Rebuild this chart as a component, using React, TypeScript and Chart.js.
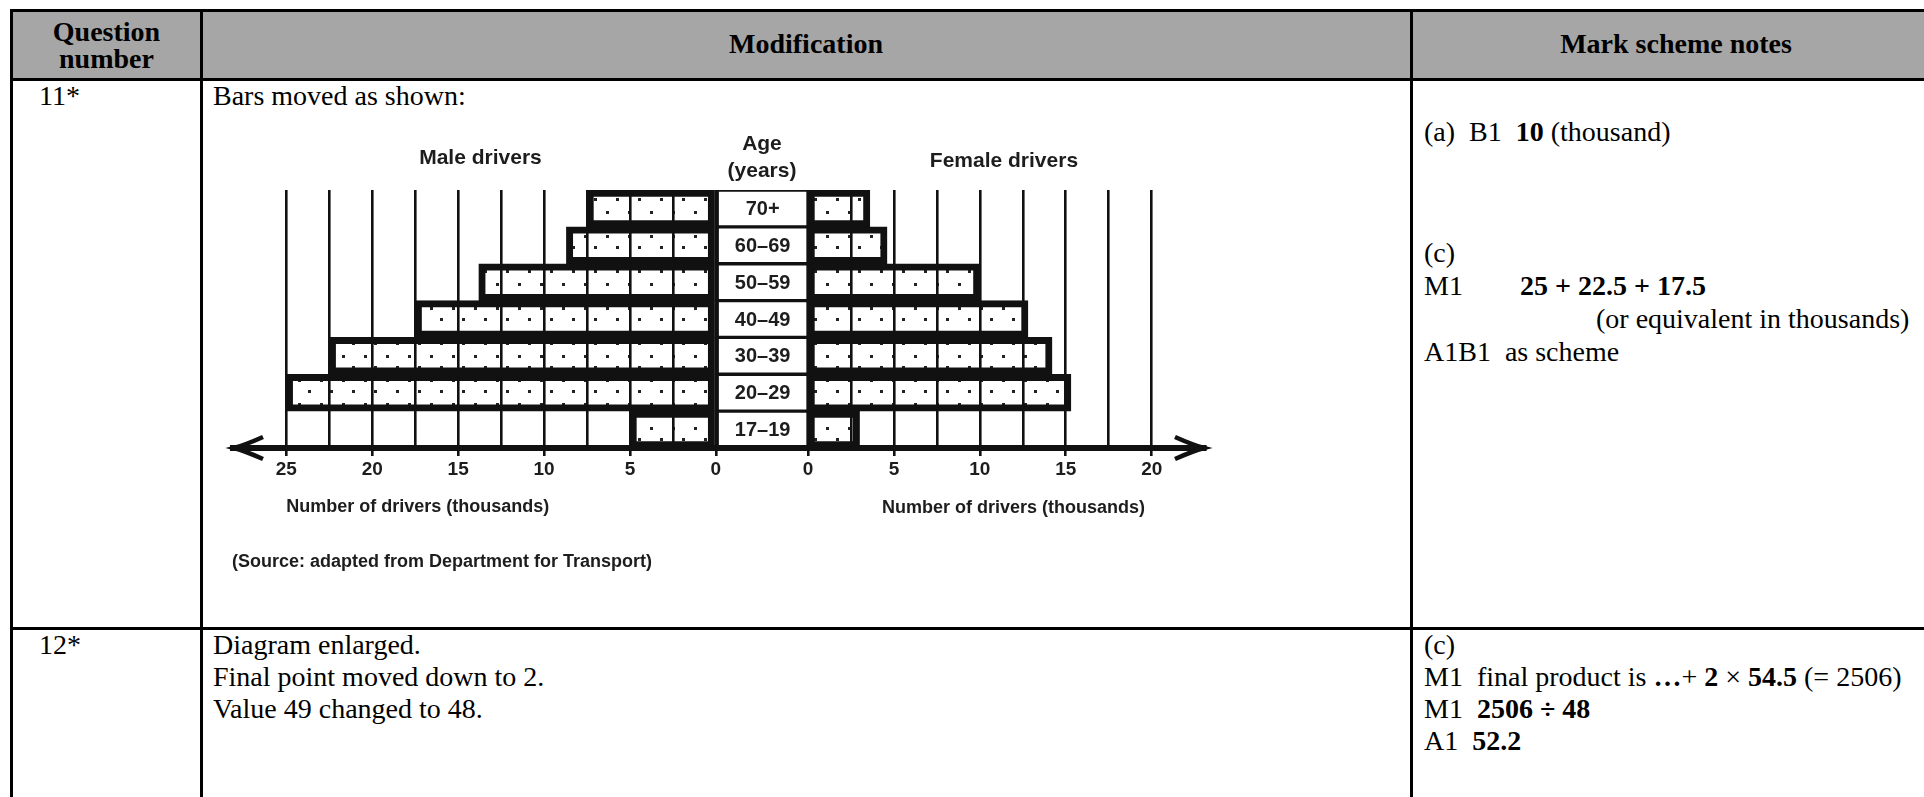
import React, { useEffect, useRef } from "react";
import { Chart, registerables } from "chart.js";

Chart.register(...registerables);

// ---------- data (thousands of drivers) ----------
const ageGroups = ["70+", "60–69", "50–59", "40–49", "30–39", "20–29", "17–19"];
const maleDrivers = [7.5, 8.7, 13.8, 17.5, 22.5, 25, 5];
const femaleDrivers = [3.6, 4.6, 10, 12.8, 14.2, 15.3, 3];
const maleTickLabels = [25, 20, 15, 10, 5, 0];
const femaleTickLabels = [0, 5, 10, 15, 20];
const gridStep = 2.5;

// layout constants of the pyramid (in axis units)
const LABEL_GAP = 5.36;
const X_MIN = -28.1;
const X_MAX = LABEL_GAP + 23.1;

const INK = "#1d1d1d";
const SANS = "'Liberation Sans', Arial, Helvetica, sans-serif";
const SERIF = "'Liberation Serif', 'Times New Roman', Times, serif";

function makeDotPattern(ctx: CanvasRenderingContext2D): CanvasPattern | string {
  const tile = document.createElement("canvas");
  tile.width = 22;
  tile.height = 24;
  const t = tile.getContext("2d");
  if (!t) return "#fff";
  t.fillStyle = "#fff";
  t.fillRect(0, 0, 22, 24);
  t.fillStyle = "#222";
  t.fillRect(5, 5, 3, 3);
  t.fillRect(15, 16, 3, 3);
  return ctx.createPattern(tile, "repeat") || "#fff";
}

function PyramidChart() {
  const ref = useRef<HTMLCanvasElement>(null);
  useEffect(() => {
    const canvas = ref.current;
    if (!canvas) return;
    const c2d = canvas.getContext("2d")!;
    const pattern = makeDotPattern(c2d);

    const maleMax = Math.max(...maleTickLabels);
    const femaleMax = Math.max(...femaleTickLabels);
    const gridValues: number[] = [];
    for (let v = maleMax; v >= -1e-9; v -= gridStep) gridValues.push(-Math.max(v, 0));
    for (let v = 0; v <= femaleMax + 1e-9; v += gridStep) gridValues.push(LABEL_GAP + v);

    const labelFor = (value: number): string => {
      if (value <= 1e-6) {
        const m = Math.abs(Math.round(-value * 100) / 100);
        return maleTickLabels.includes(m) ? String(m) : "";
      }
      const f = Math.round((value - LABEL_GAP) * 100) / 100;
      return femaleTickLabels.includes(f) ? String(f) : "";
    };

    const textPlugin = {
      id: "pyramidText",
      afterDraw(chart: any) {
        const { ctx, chartArea, scales } = chart;
        const xs = scales.x;
        ctx.save();
        ctx.fillStyle = INK;
        ctx.textBaseline = "middle";
        // age labels inside the centre boxes
        const meta = chart.getDatasetMeta(1);
        ctx.font = `bold 20px ${SANS}`;
        ctx.textAlign = "center";
        meta.data.forEach((el: any, i: number) => {
          const cx = (el.x + el.base) / 2;
          ctx.fillText(ageGroups[i], cx, el.y + 1);
        });
        // headings
        ctx.font = `bold 21px ${SANS}`;
        ctx.fillText("Male drivers", xs.getPixelForValue(-13.7), chartArea.top - 32);
        ctx.fillText("Age", xs.getPixelForValue(LABEL_GAP / 2), chartArea.top - 46);
        ctx.fillText("(years)", xs.getPixelForValue(LABEL_GAP / 2), chartArea.top - 19);
        ctx.fillText("Female drivers", xs.getPixelForValue(LABEL_GAP + 11.4), chartArea.top - 29);
        // axis titles
        ctx.font = `bold 18px ${SANS}`;
        ctx.textAlign = "left";
        ctx.fillText("Number of drivers (thousands)", xs.getPixelForValue(-maleMax), chartArea.bottom + 59);
        ctx.fillText("Number of drivers (thousands)", xs.getPixelForValue(LABEL_GAP + 4.3), chartArea.bottom + 60);
        ctx.fillText("(Source: adapted from Department for Transport)", chartArea.left - 1, chartArea.bottom + 114);
        // arrow heads
        ctx.strokeStyle = "#111";
        ctx.lineWidth = 4.5;
        ctx.lineJoin = "miter";
        ctx.lineCap = "butt";
        const y = chartArea.bottom;
        ctx.beginPath();
        ctx.moveTo(chartArea.left + 30, y - 11);
        ctx.quadraticCurveTo(chartArea.left + 12, y - 3, chartArea.left + 1, y);
        ctx.quadraticCurveTo(chartArea.left + 12, y + 3, chartArea.left + 30, y + 11);
        ctx.stroke();
        ctx.beginPath();
        ctx.moveTo(chartArea.right - 30, y - 11);
        ctx.quadraticCurveTo(chartArea.right - 12, y - 3, chartArea.right - 1, y);
        ctx.quadraticCurveTo(chartArea.right - 12, y + 3, chartArea.right - 30, y + 11);
        ctx.stroke();
        ctx.restore();
      },
    };

    const barCommon = {
      borderColor: "#111",
      borderSkipped: false,
      barPercentage: 1,
      categoryPercentage: 1,
      grouped: false,
    };

    const chart = new Chart(canvas, {
      type: "bar",
      data: {
        labels: ageGroups,
        datasets: [
          {
            label: "Male drivers",
            data: maleDrivers.map((v) => [-v, 0]) as any,
            backgroundColor: pattern as any,
            borderWidth: 7,
            ...barCommon,
          } as any,
          {
            label: "Age",
            data: ageGroups.map(() => [0, LABEL_GAP]) as any,
            backgroundColor: "#fff",
            borderWidth: 2,
            ...barCommon,
          } as any,
          {
            label: "Female drivers",
            data: femaleDrivers.map((v) => [LABEL_GAP, LABEL_GAP + v]) as any,
            backgroundColor: pattern as any,
            borderWidth: 7,
            ...barCommon,
          } as any,
        ],
      },
      options: {
        indexAxis: "y",
        animation: false,
        responsive: false,
        maintainAspectRatio: false,
        events: [],
        layout: { padding: { left: 28, right: 200, top: 80, bottom: 102 } },
        plugins: { legend: { display: false }, tooltip: { enabled: false }, title: { display: false } },
        scales: {
          x: {
            type: "linear",
            min: X_MIN,
            max: X_MAX,
            afterBuildTicks: (scale: any) => {
              scale.ticks = gridValues.map((v) => ({ value: v }));
            },
            afterFit: (scale: any) => {
              scale.height = 40;
            },
            grid: {
              color: "#111",
              lineWidth: 2.6,
              z: 1,
              drawTicks: true,
              tickLength: 8,
              tickWidth: 2.6,
              tickColor: (ctx: any) => (ctx.tick && labelFor(ctx.tick.value) ? "#111" : "rgba(0,0,0,0)"),
            } as any,
            border: { display: true, color: "#111", width: 6, z: 2 } as any,
            ticks: {
              autoSkip: false,
              maxRotation: 0,
              minRotation: 0,
              padding: 2,
              color: INK,
              font: { family: SANS, size: 19, weight: "bold" },
              callback: (value: any) => labelFor(Number(value)),
            },
          },
          y: {
            type: "category",
            display: false,
            offset: true,
            grid: { display: false },
          },
        },
      },
      plugins: [textPlugin],
    });
    return () => chart.destroy();
  }, []);
  return (
    <canvas
      ref={ref}
      width={1200}
      height={480}
      style={{ position: "absolute", left: 205, top: 110, width: 1200, height: 480 }}
    />
  );
}

const line = (style: React.CSSProperties) => (
  <div style={{ position: "absolute", background: "#000", ...style }} />
);

function Txt(props: { x: number; cy: number; children: React.ReactNode; bold?: boolean; center?: number; lh?: number }) {
  const lh = props.lh ?? 32;
  const style: React.CSSProperties = {
    position: "absolute",
    top: props.cy - lh / 2,
    lineHeight: `${lh}px`,
    fontSize: 28,
    fontFamily: SERIF,
    fontWeight: props.bold ? "bold" : "normal",
    whiteSpace: "pre",
    color: "#000",
    left: props.x,
  };
  if (props.center !== undefined) {
    style.width = props.center;
    style.textAlign = "center";
  }
  return <div style={style}>{props.children}</div>;
}

export default function App() {
  return (
    <div style={{ position: "absolute", left: 0, top: 0, width: 1924, height: 797, overflow: "hidden", background: "#fff" }}>
      {/* header background */}
      <div style={{ position: "absolute", left: 11, top: 10, width: 1940, height: 69, background: "#a6a6a6" }} />
      {/* table lines */}
      {line({ left: 10, top: 9, width: 1940, height: 3 })}
      {line({ left: 10, top: 78, width: 1940, height: 3 })}
      {line({ left: 10, top: 627, width: 1940, height: 3 })}
      {line({ left: 10, top: 9, width: 3, height: 800 })}
      {line({ left: 200, top: 9, width: 3, height: 800 })}
      {line({ left: 1410, top: 9, width: 3, height: 800 })}

      {/* header */}
      <div
        style={{
          position: "absolute",
          left: 12,
          width: 189,
          top: 18,
          lineHeight: "27px",
          fontSize: 28,
          fontFamily: SERIF,
          fontWeight: "bold",
          textAlign: "center",
        }}
      >
        Question
        <br />
        number
      </div>
      <Txt x={202} center={1208} cy={44} bold>
        Modification
      </Txt>
      <Txt x={1412} center={528} cy={44} bold>
        Mark scheme notes
      </Txt>

      {/* row 11 */}
      <Txt x={39} cy={96}>11*</Txt>
      <Txt x={213} cy={96}>Bars moved as shown:</Txt>
      <Txt x={1424} cy={132}>
        {"(a)  B1  "}
        <b>10</b>
        {" (thousand)"}
      </Txt>
      <Txt x={1424} cy={253}>(c)</Txt>
      <Txt x={1424} cy={286}>M1</Txt>
      <Txt x={1520} cy={286} bold>
        25 + 22.5 + 17.5
      </Txt>
      <Txt x={1596} cy={319}>(or equivalent in thousands)</Txt>
      <Txt x={1424} cy={352}>A1B1  as scheme</Txt>

      {/* row 12 */}
      <Txt x={39} cy={645}>12*</Txt>
      <Txt x={213} cy={645}>Diagram enlarged.</Txt>
      <Txt x={213} cy={677}>Final point moved down to 2.</Txt>
      <Txt x={213} cy={709}>Value 49 changed to 48.</Txt>
      <Txt x={1424} cy={645}>(c)</Txt>
      <Txt x={1424} cy={677}>
        {"M1  final product is "}
        <b>…</b>
        {"+ "}
        <b>2</b>
        {" × "}
        <b>54.5</b>
        {" (= 2506)"}
      </Txt>
      <Txt x={1424} cy={709}>
        {"M1  "}
        <b>2506 ÷ 48</b>
      </Txt>
      <Txt x={1424} cy={741}>
        {"A1  "}
        <b>52.2</b>
      </Txt>

      <PyramidChart />
    </div>
  );
}
